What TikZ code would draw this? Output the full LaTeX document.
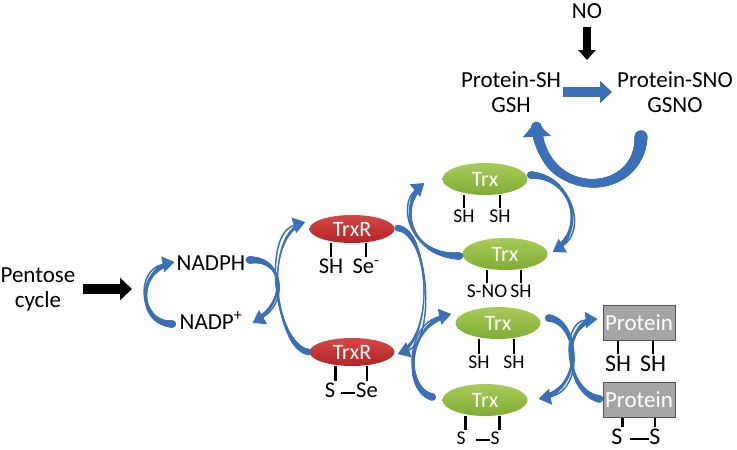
\documentclass[tikz,border=0pt]{standalone}
\usepackage{fontspec}
\setmainfont{Carlito}
\usepackage{tikz}
\usetikzlibrary{shapes.geometric,arrows.meta,decorations.markings}
\definecolor{flowblue}{RGB}{58,112,184}
\definecolor{redtop}{RGB}{214,72,66}
\definecolor{redbot}{RGB}{178,36,38}
\definecolor{greentop}{RGB}{168,204,88}
\definecolor{greenbot}{RGB}{128,172,52}
\definecolor{protgray}{RGB}{165,165,165}
\definecolor{protedge}{RGB}{85,85,85}
\tikzstyle{metab} = [font=\fontsize{23}{25}\selectfont, align=center, inner sep=0pt]
\tikzstyle{trxr} = [ellipse, minimum width=85pt, minimum height=28pt, inner sep=0pt,
    top color=redtop, bottom color=redbot, text=white, font=\fontsize{22}{22}\selectfont]
\tikzstyle{trx} = [ellipse, minimum width=85pt, minimum height=32pt, inner sep=0pt,
    top color=greentop, bottom color=greenbot, text=white, font=\fontsize{22}{22}\selectfont]
\tikzstyle{prot} = [rectangle, draw=protedge, line width=1pt, fill=protgray,
    minimum width=72pt, minimum height=35pt, inner sep=0pt, text=white, font=\fontsize{23}{23}\selectfont]
\tikzstyle{thiol} = [font=\fontsize{19.5}{19.5}\selectfont, inner sep=0pt]
\tikzstyle{thiolr} = [font=\fontsize{22.5}{22.5}\selectfont, inner sep=0pt]
\tikzstyle{thiolp} = [font=\fontsize{24}{24}\selectfont, inner sep=0pt]
\tikzstyle{tick} = [draw, line width=2.8pt, shorten <=1.5pt]
\tikzstyle{bond} = [draw, line width=2.8pt]
\tikzstyle{flow} = [draw=flowblue, line width=1.5pt, -{Triangle[length=12pt,width=16pt]}]
\tikzstyle{fatarrow} = [draw, line width=10pt, -{Triangle[length=12pt,width=22pt]}]
\tikzset{
  taper/.style 2 args={postaction={decorate, decoration={markings,
      mark=between positions 0 and -6pt step 0.7pt with {
        \pgfmathsetmacro\tpos{\pgfkeysvalueof{/pgf/decoration/mark info/distance from start}/\pgfdecoratedpathlength}
        \pgfmathsetmacro\trad{#2+(#1-#2)*((\tpos-0.55)/0.55)^2}
        \fill[flowblue] (0,0) circle (\trad pt);}}}}
}

\begin{document}
\begin{tikzpicture}[x=1pt, y=-1pt]
   \useasboundingbox (0,0) rectangle (737,450);
   \node [metab] (pentose) at (38,289) {Pentose\\cycle};
   \node [metab] (nadph) at (211,263) {NADPH};
   \node [metab] (nadp) at (211,321) {NADP\textsuperscript{+}};
   \node [trxr] (trxr_red) at (352,229) {TrxR};
   \node [trxr] (trxr_ox) at (352,352) {TrxR};
   \node [trx] (trx_sh) at (485,179) {Trx};
   \node [trx] (trx_sno) at (505,254) {Trx};
   \node [trx] (trx_red) at (498,323) {Trx};
   \node [trx] (trx_ox) at (485,400) {Trx};
   \node [prot] (prot_red) at (639,323) {Protein};
   \node [prot] (prot_ox) at (639,400) {Protein};
   \node [metab] (no) at (587,11) {NO};
   \node [metab] (prot_sh) at (511,92) {Protein-SH\\GSH};
   \node [metab] (prot_sno) at (675,92) {Protein-SNO\\GSNO};
   % thiol groups
   \node [thiolr] (shr1a) at (331,266) {SH};
   \node [thiolr] (ser1b) at (366,266) {Se\textsuperscript{-}};
   \node [thiolr] (ssr2a) at (330,390) {S};
   \node [thiolr] (ser2b) at (367,390) {Se};
   \node [thiol] (sh1a) at (464,216) {SH};
   \node [thiol] (sh1b) at (500,216) {SH};
   \node [thiol] (sno2a) at (487,291) {S-NO};
   \node [thiol] (sh2b) at (521,291) {SH};
   \node [thiol] (sh3a) at (479,362) {SH};
   \node [thiol] (sh3b) at (514,362) {SH};
   \node [thiol] (ss4a) at (461,438) {S};
   \node [thiol] (ss4b) at (495,438) {S};
   \node [thiolp] (shp1a) at (618,364) {SH};
   \node [thiolp] (shp1b) at (653,364) {SH};
   \node [thiolp] (ssp2a) at (617,437) {S};
   \node [thiolp] (ssp2b) at (655,437) {S};
   \path [tick] (shr1a.north) -- (shr1a.north |- trxr_red.south);
   \path [tick] (ser1b.north) -- (ser1b.north |- trxr_red.south);
   \path [tick] (ssr2a.north east) -- (ssr2a.north east |- trxr_ox.south);
   \path [tick] (ser2b.north) -- (ser2b.north |- trxr_ox.south);
   \path [bond] ([shift={(6,3)}]ssr2a.east) -- ([shift={(-1,3)}]ser2b.west);
   \path [tick] (sh1a.north) -- (sh1a.north |- trx_sh.south);
   \path [tick] (sh1b.north) -- (sh1b.north |- trx_sh.south);
   \path [tick] (sno2a.north) -- (sno2a.north |- trx_sno.south);
   \path [tick] (sh2b.north) -- (sh2b.north |- trx_sno.south);
   \path [tick] (sh3a.north) -- (sh3a.north |- trx_red.south);
   \path [tick] (sh3b.north) -- (sh3b.north |- trx_red.south);
   \path [tick] (ss4a.north east) -- (ss4a.north east |- trx_ox.south);
   \path [tick] (ss4b.north east) -- (ss4b.north east |- trx_ox.south);
   \path [bond] ([shift={(10,2)}]ss4a.east) -- ([shift={(0,2)}]ss4b.west);
   \path [tick] (shp1a.north) -- (shp1a.north |- prot_red.south);
   \path [tick] (shp1b.north) -- (shp1b.north |- prot_red.south);
   \path [tick] (ssp2a.north east) -- (ssp2a.north east |- prot_ox.south);
   \path [tick] (ssp2b.north) -- (ssp2b.north |- prot_ox.south);
   \path [bond] ([shift={(7,2)}]ssp2a.east) -- ([shift={(0,2)}]ssp2b.west);
   % straight arrows
   \coordinate (pentose_tip) at (132,289);
   \coordinate (no_tip) at (587,60);
   \path [fatarrow, shorten <=7pt] (pentose.east) -- (pentose_tip);
   \path [fatarrow, line width=8pt, -{Triangle[length=10pt,width=17pt]}, shorten <=8pt] (no.south) -- (no_tip);
   \path [fatarrow, draw=flowblue, shorten <=2pt, shorten >=5pt] (prot_sh.east) -- (prot_sno.west);
   % curved arrows
   \path [flow, taper={3.8}{1.7}] ([shift={(-7,3)}]nadp.west) .. controls +(-34,0) and +(-40,8) .. ([shift={(-2,-1)}]nadph.west);
   \path [flow, taper={3.8}{1.3}] ([shift={(4,-3)}]nadph.east) .. controls +(36,-2) and +(35,-20) .. ([shift={(10,2)}]nadp.east);
   \path [flow, taper={3.3}{0.8}] ([xshift=-1pt]trxr_ox.west) .. controls +(-33,-6) and +(-44,13) .. ([shift={(-4,-7)}]trxr_red.west);
   \path [flow, taper={3.3}{0.8}] ([shift={(3,-1)}]trxr_red.east) .. controls +(32,4) and +(38,-14) .. ([shift={(3,2)}]trxr_ox.east);
   \path [flow, taper={3.8}{1.5}] ([shift={(-3,2)}]trx_sno.west) .. controls +(-50,0) and +(-27,22) .. ([shift={(-18,4)}]trx_sh.west);
   \path [flow, taper={3.8}{1.5}] ([shift={(3,-4)}]trx_sh.east) .. controls +(41,1) and +(35,-22) .. ([shift={(5,-2)}]trx_sno.east);
   \path [flow, taper={3.8}{1.5}] ([shift={(-10,-3)}]trx_ox.west) .. controls +(-28,-7) and +(-47,11) .. ([shift={(-4,-9)}]trx_red.west);
   \path [flow, taper={3.8}{1.5}] ([shift={(8,-5)}]trx_red.east) .. controls +(31,4) and +(46,-9) .. ([shift={(11,-1)}]trx_ox.east);
   \path [flow, taper={3.8}{1.5}] ([shift={(-3,-1)}]prot_ox.west) .. controls +(-35,-7) and +(-38,3) .. ([shift={(-5,-4)}]prot_red.west);
   \path [flow, -{Triangle[length=15pt,width=28pt]}, taper={6.5}{4.3}] ([shift={(-34,24)}]prot_sno.south) .. controls +(-1,63) and +(4,81) .. ([shift={(25,9)}]prot_sh.south);
\end{tikzpicture}
\end{document}
